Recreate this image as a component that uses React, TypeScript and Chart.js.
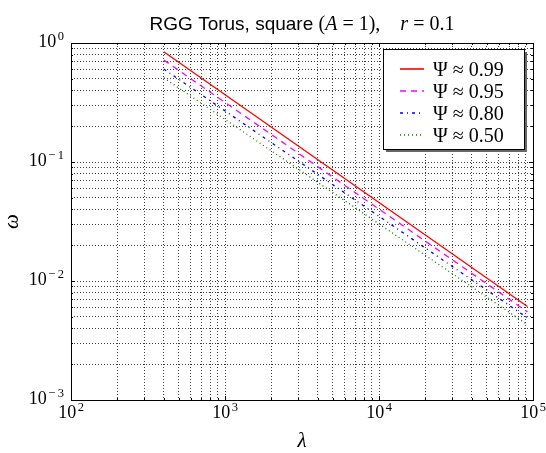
import React, { useEffect, useRef } from 'react';
import { Chart, registerables } from 'chart.js';

Chart.register(...registerables);

// ---- data ----
const lambdaValues = [400, 92000];
const psi099 = [0.845, 0.0061];
const psi095 = [0.72, 0.0055];
const psi080 = [0.605, 0.0049];
const psi050 = [0.51, 0.0043];
const seriesLabels = ['0.99', '0.95', '0.80', '0.50'];
const seriesColors = ['#ff0000', '#ff00ff', '#0000ff', '#008000'];
const seriesDashes: number[][] = [[], [6, 5], [3, 4, 1, 4], [1, 3]];
const xDecades = [2, 3, 4, 5];
const yDecades = [-3, -2, -1, 0];
const minorMultiples = [2, 3, 4, 5, 6, 7, 8, 9];
const titleLead = 'RGG Torus, square';
const xTitle = 'λ';
const yTitle = 'ω';

function gridValues(decades: number[]) {
  const out: { value: number; major: boolean; exp: number }[] = [];
  decades.forEach((d, i) => {
    out.push({ value: Math.pow(10, d), major: true, exp: d });
    if (i < decades.length - 1) {
      minorMultiples.forEach((m) => out.push({ value: m * Math.pow(10, d), major: false, exp: d }));
    }
  });
  return out;
}
const xGrid = gridValues(xDecades);
const yGrid = gridValues(yDecades);

const SERIF = '"Liberation Serif", "DejaVu Serif", serif';
const SANS = '"Liberation Sans", Arial, sans-serif';

const bigFont = '18px ' + SERIF;
const smallFont = '12.5px ' + SERIF;

function measurePow(ctx: CanvasRenderingContext2D, e: number) {
  ctx.font = bigFont;
  const w1 = ctx.measureText('10').width;
  ctx.font = smallFont;
  const digits = String(Math.abs(e));
  const wd = ctx.measureText(digits).width;
  const wm = e < 0 ? ctx.measureText('\u2212').width + 2.5 : 0;
  return { w1, wm, wd, total: w1 + 1.5 + wm + wd };
}
function drawPow(ctx: CanvasRenderingContext2D, e: number, x0: number, base: number) {
  const m = measurePow(ctx, e);
  ctx.textAlign = 'left';
  ctx.font = bigFont;
  ctx.fillText('10', x0, base);
  ctx.font = smallFont;
  let x = x0 + m.w1 + 1.5;
  if (e < 0) { ctx.fillText('\u2212', x, base - 7.5); x += m.wm; }
  ctx.fillText(String(Math.abs(e)), x, base - 7.5);
}

const decorPlugin = {
  id: 'decor',
  afterDraw(chart: any) {
    const ctx = chart.ctx as CanvasRenderingContext2D;
    const area = chart.chartArea;
    const xs = chart.scales.x;
    const ys = chart.scales.y;
    ctx.save();

    // box
    ctx.strokeStyle = '#000';
    ctx.lineWidth = 1;
    ctx.setLineDash([]);
    ctx.strokeRect(Math.round(area.left) + 0.5, Math.round(area.top) + 0.5,
      Math.round(area.right - area.left), Math.round(area.bottom - area.top));

    // tick marks inward
    ctx.beginPath();
    xGrid.forEach((t) => {
      const px = Math.round(xs.getPixelForValue(t.value)) + 0.5;
      const len = t.major ? 4 : 2;
      ctx.moveTo(px, area.bottom); ctx.lineTo(px, area.bottom - len);
      ctx.moveTo(px, area.top); ctx.lineTo(px, area.top + len);
    });
    yGrid.forEach((t) => {
      const py = Math.round(ys.getPixelForValue(t.value)) + 0.5;
      const len = t.major ? 4 : 2;
      ctx.moveTo(area.left, py); ctx.lineTo(area.left + len, py);
      ctx.moveTo(area.right, py); ctx.lineTo(area.right - len, py);
    });
    ctx.stroke();

    // tick labels
    ctx.fillStyle = '#000';
    ctx.textBaseline = 'alphabetic';
    xGrid.filter((t) => t.major).forEach((t) => {
      const px = xs.getPixelForValue(t.value);
      const m = measurePow(ctx, t.exp);
      drawPow(ctx, t.exp, px - m.total / 2, area.bottom + 18);
    });
    yGrid.filter((t) => t.major).forEach((t) => {
      const py = ys.getPixelForValue(t.value);
      const m = measurePow(ctx, t.exp);
      drawPow(ctx, t.exp, area.left - 7 - m.total, py + 4);
    });

    // axis titles
    ctx.font = 'italic 21px ' + SERIF;
    ctx.textAlign = 'center';
    ctx.textBaseline = 'middle';
    ctx.fillText(xTitle, (area.left + area.right) / 2, 441);
    ctx.save();
    ctx.translate(12, (area.top + area.bottom) / 2);
    ctx.rotate(-Math.PI / 2);
    ctx.fillText(yTitle, 0, 0);
    ctx.restore();

    // title (mixed fonts)
    const parts: [string, string][] = [
      [titleLead + ' ', '19px ' + SANS],
      ['(', '20px ' + SERIF],
      ['A', 'italic 20px ' + SERIF],
      [' = 1),    ', '20px ' + SERIF],
      ['r', 'italic 20px ' + SERIF],
      [' = 0.1', '20px ' + SERIF],
    ];
    let total = 0;
    const widths = parts.map(([s, f]) => { ctx.font = f; const w = ctx.measureText(s).width; total += w; return w; });
    let tx = (area.left + area.right) / 2 - total / 2;
    ctx.textAlign = 'left';
    ctx.textBaseline = 'alphabetic';
    parts.forEach(([s, f], i) => { ctx.font = f; ctx.fillText(s, tx, 30); tx += widths[i]; });

    // legend
    const lx = 383, ly = 49, lw = 141, lh = 100;
    ctx.fillStyle = '#666';
    ctx.fillRect(lx + 3, ly + 3, lw, lh);
    ctx.fillStyle = '#fff';
    ctx.fillRect(lx, ly, lw, lh);
    ctx.strokeStyle = '#000';
    ctx.lineWidth = 1;
    ctx.strokeRect(lx + 0.5, ly + 0.5, lw, lh);
    chart.data.datasets.forEach((ds: any, i: number) => {
      const rowY = ly + 20 + i * 22;
      ctx.strokeStyle = ds.borderColor;
      ctx.lineWidth = 1.6;
      ctx.setLineDash(ds.borderDash || []);
      ctx.beginPath();
      ctx.moveTo(lx + 17, rowY);
      ctx.lineTo(lx + 41, rowY);
      ctx.stroke();
      ctx.setLineDash([]);
      ctx.fillStyle = '#000';
      ctx.font = '20px ' + SERIF;
      ctx.textAlign = 'left';
      ctx.fillText(ds.label, lx + 50, rowY + 7);
    });
    ctx.restore();
  },
};

export default function App() {
  const canvasRef = useRef<HTMLCanvasElement | null>(null);
  useEffect(() => {
    if (!canvasRef.current) return;
    const series = [psi099, psi095, psi080, psi050];
    const chart = new Chart(canvasRef.current, {
      type: 'line',
      data: {
        datasets: series.map((vals, i) => ({
          label: 'Ψ ≈ ' + seriesLabels[i],
          data: vals.map((v, j) => ({ x: lambdaValues[j], y: v })),
          borderColor: seriesColors[i],
          backgroundColor: seriesColors[i],
          borderWidth: 1.3,
          borderDash: seriesDashes[i],
          pointRadius: 0,
          fill: false,
          tension: 0,
        })),
      },
      options: {
        responsive: false,
        animation: false,
        layout: { padding: { top: 43, right: 13, left: 0, bottom: 0 } },
        plugins: { legend: { display: false }, title: { display: false }, tooltip: { enabled: false } },
        scales: {
          x: {
            type: 'logarithmic',
            min: 100,
            max: 100000,
            afterBuildTicks: (scale: any) => { scale.ticks = xGrid.map((t) => ({ value: t.value, major: t.major })); },
            afterFit: (scale: any) => { scale.height = 53; },
            ticks: { display: false },
            border: { display: false, dash: [1, 2] },
            grid: { drawTicks: false, color: 'rgba(0,0,0,0.75)', lineWidth: 1 },
          },
          y: {
            type: 'logarithmic',
            min: 0.001,
            max: 1,
            afterBuildTicks: (scale: any) => { scale.ticks = yGrid.map((t) => ({ value: t.value, major: t.major })); },
            afterFit: (scale: any) => { scale.width = 71; },
            ticks: { display: false },
            border: { display: false, dash: [1, 2] },
            grid: { drawTicks: false, color: 'rgba(0,0,0,0.75)', lineWidth: 1 },
          },
        },
      },
      plugins: [decorPlugin],
    });
    return () => chart.destroy();
  }, []);
  return (
    <div style={{ position: 'absolute', left: 0, top: 0, width: 546, height: 453, background: '#fff' }}>
      <canvas ref={canvasRef} width={546} height={453} />
    </div>
  );
}
